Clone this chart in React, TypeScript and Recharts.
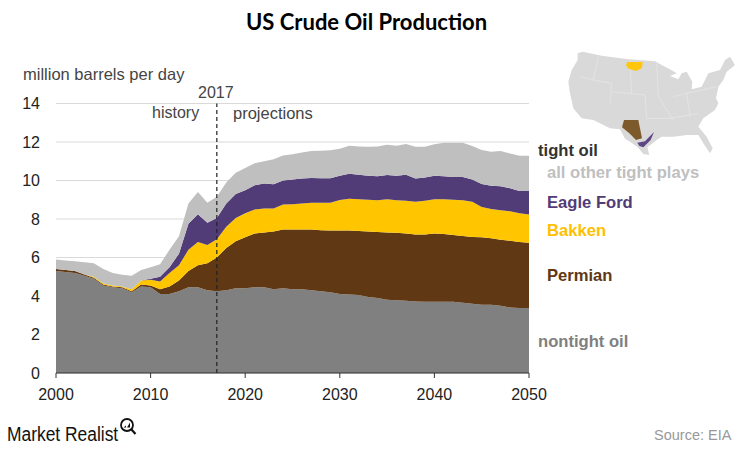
import React from 'react';
import { Area, AreaChart, CartesianGrid, ReferenceLine, XAxis, YAxis } from 'recharts';

const years = [
  2000, 2001, 2002, 2003, 2004, 2005, 2006, 2007, 2008, 2009,
  2010, 2011, 2012, 2013, 2014, 2015, 2016, 2017, 2018, 2019,
  2020, 2021, 2022, 2023, 2024, 2025, 2026, 2027, 2028, 2029,
  2030, 2031, 2032, 2033, 2034, 2035, 2036, 2037, 2038, 2039,
  2040, 2041, 2042, 2043, 2044, 2045, 2046, 2047, 2048, 2049, 2050,
];

// million barrels per day
const nontight = [
  5.3, 5.25, 5.2, 5.05, 4.9, 4.55, 4.45, 4.4, 4.2, 4.5,
  4.45, 4.1, 4.1, 4.25, 4.45, 4.45, 4.3, 4.25, 4.3, 4.4,
  4.4, 4.45, 4.45, 4.35, 4.4, 4.35, 4.35, 4.3, 4.25, 4.2,
  4.1, 4.08, 4.05, 3.95, 3.9, 3.8, 3.78, 3.75, 3.72, 3.7,
  3.7, 3.7, 3.7, 3.65, 3.6, 3.55, 3.55, 3.5, 3.4, 3.38, 3.38,
];
const permian = [
  0.1, 0.1, 0.1, 0.07, 0.05, 0.05, 0.05, 0.05, 0.05, 0.1,
  0.1, 0.25, 0.4, 0.55, 0.85, 1.15, 1.4, 1.75, 2.2, 2.45,
  2.65, 2.8, 2.85, 3.0, 3.05, 3.1, 3.1, 3.15, 3.17, 3.2,
  3.3, 3.32, 3.33, 3.4, 3.42, 3.5, 3.5, 3.5, 3.48, 3.5,
  3.55, 3.52, 3.47, 3.47, 3.47, 3.5, 3.45, 3.42, 3.47, 3.42, 3.39,
];
const bakken = [
  0, 0, 0, 0, 0.05, 0.05, 0.05, 0.05, 0.1, 0.2,
  0.3, 0.4, 0.7, 0.8, 1.1, 1.2, 0.95, 0.95, 1.1, 1.2,
  1.25, 1.25, 1.25, 1.2, 1.3, 1.31, 1.35, 1.4, 1.42, 1.45,
  1.59, 1.65, 1.65, 1.65, 1.65, 1.73, 1.7, 1.7, 1.7, 1.75,
  1.77, 1.8, 1.83, 1.85, 1.83, 1.57, 1.52, 1.53, 1.53, 1.5, 1.47,
];
const eagleFord = [
  0, 0, 0, 0, 0, 0, 0, 0, 0, 0,
  0.05, 0.25, 0.3, 0.6, 1.35, 1.45, 1.15, 1.1, 1.2, 1.25,
  1.2, 1.25, 1.3, 1.25, 1.25, 1.29, 1.3, 1.28, 1.28, 1.27,
  1.26, 1.3, 1.27, 1.25, 1.25, 1.25, 1.27, 1.35, 1.2, 1.2,
  1.23, 1.2, 1.18, 1.21, 1.15, 1.2, 1.21, 1.25, 1.2, 1.15, 1.21,
];
const otherTight = [
  0.5, 0.5, 0.5, 0.63, 0.7, 0.75, 0.65, 0.6, 0.7, 0.55,
  0.6, 0.65, 0.9, 0.9, 1.05, 1.15, 1.05, 1.1, 1.1, 1.1,
  1.15, 1.15, 1.15, 1.3, 1.3, 1.31, 1.35, 1.4, 1.43, 1.45,
  1.4, 1.45, 1.47, 1.5, 1.55, 1.58, 1.55, 1.6, 1.65, 1.6,
  1.63, 1.74, 1.78, 1.78, 1.74, 1.76, 1.77, 1.83, 1.8, 1.84, 1.84,
];

const yTicks = [0, 2, 4, 6, 8, 10, 12, 14];
const xTicks = [2000, 2010, 2020, 2030, 2040, 2050];

const rows = years.map((year, i) => ({
  year,
  nontight: nontight[i],
  permian: permian[i],
  bakken: bakken[i],
  eagleFord: eagleFord[i],
  otherTight: otherTight[i],
}));

const arial = '"Liberation Sans", Arial, sans-serif';

function Text(props: { x: number; y: number; size: number; color: string; bold?: boolean; font?: string; squeeze?: number; children: React.ReactNode }) {
  return (
    <div
      style={{
        position: 'absolute',
        left: props.x,
        top: props.y,
        fontFamily: props.font || arial,
        fontSize: props.size,
        fontWeight: props.bold ? 700 : 400,
        color: props.color,
        lineHeight: 1,
        whiteSpace: 'nowrap',
        transform: props.squeeze ? `scaleX(${props.squeeze})` : undefined,
        transformOrigin: 'left center',
      }}
    >
      {props.children}
    </div>
  );
}

// rough outline for the inset, not data
function UsMap() {
  return (
    <svg width={209} height={130} viewBox="0 0 627 390" style={{ position: 'absolute', left: 530, top: 40 }}>
      <path
        d="M143 40 L158 35 L215 47 L290 57 L375 64 L395 75 L420 88 L440 100 L420 108 L445 118 L455 100 L470 95 L487 125 L485 148 L515 140 L535 100 L570 90 L585 60 L600 50 L615 75 L590 95 L580 120 L565 140 L558 175 L565 190 L555 210 L520 235 L505 260 L530 290 L548 325 L540 340 L520 310 L505 285 L470 285 L430 290 L395 290 L380 300 L352 322 L358 345 L340 342 L322 320 L300 305 L285 296 L270 268 L240 265 L190 240 L155 235 L130 205 L120 160 L115 125 L125 90 L143 60 Z"
        fill="#d9d9d9"
      />
      <path
        d="M205 50 L190 120 L245 130 L240 190 M190 120 L150 110 M245 155 L345 165 L350 235 M300 60 L305 160 M380 70 L385 170 L430 240 M350 235 L420 235 L505 220 M430 170 L470 160 L560 140 M470 160 L480 230"
        fill="none"
        stroke="#e8e8e8"
        strokeWidth={2}
      />
      <path d="M292 66 L338 66 L336 84 L318 93 L296 86 L288 76 Z" fill="#ffc60b" />
      <path d="M282 240 L325 240 L330 265 L336 295 L318 300 L298 280 L276 262 Z" fill="#7d5a2c" />
      <path d="M372 276 L362 300 L340 322 L328 318 L322 308 L345 304 L358 290 Z" fill="#5d4784" />
    </svg>
  );
}

export default function App() {
  return (
    <div style={{ position: 'absolute', left: 0, top: 0, width: 739, height: 450, background: '#fff', overflow: 'hidden' }}>
      <AreaChart
        width={739}
        height={450}
        data={rows}
        margin={{ top: 103.5, right: 210, bottom: 47, left: 16 }}
      >
        <CartesianGrid vertical={false} stroke="#d9d9d9" strokeWidth={1} />
        <XAxis
          dataKey="year"
          type="number"
          domain={[2000, 2050]}
          ticks={xTicks}
          height={30}
          interval={0}
          stroke="#333"
          tickSize={5}
          tickMargin={11}
          tick={{ fill: '#222', fontSize: 16, fontFamily: arial }}
        />
        <YAxis
          domain={[0, 14]}
          ticks={yTicks}
          width={40}
          axisLine={false}
          tickLine={false}
          tickMargin={10}
          tick={{ fill: '#222', fontSize: 16, fontFamily: arial }}
        />
        <Area dataKey="nontight" stackId="oil" type="linear" stroke="none" fill="#808080" fillOpacity={1} isAnimationActive={false} />
        <Area dataKey="permian" stackId="oil" type="linear" stroke="none" fill="#603813" fillOpacity={1} isAnimationActive={false} />
        <Area dataKey="bakken" stackId="oil" type="linear" stroke="none" fill="#ffc600" fillOpacity={1} isAnimationActive={false} />
        <Area dataKey="eagleFord" stackId="oil" type="linear" stroke="none" fill="#513c78" fillOpacity={1} isAnimationActive={false} />
        <Area dataKey="otherTight" stackId="oil" type="linear" stroke="none" fill="#bfbfbf" fillOpacity={1} isAnimationActive={false} />
        <ReferenceLine x={2017} stroke="#222" strokeWidth={1.2} strokeDasharray="4 3" />
      </AreaChart>

      <Text x={246} y={11} size={22} color="#000" bold font="Lato, sans-serif">US Crude Oil Production</Text>
      <Text x={23} y={66} size={16.5} color="#444">million barrels per day</Text>
      <Text x={198} y={85} size={16} color="#444">2017</Text>
      <Text x={152} y={105} size={16} color="#444">history</Text>
      <Text x={233} y={105} size={16.5} color="#444">projections</Text>

      <UsMap />

      <Text x={538} y={143} size={16.6} color="#333" bold>tight oil</Text>
      <Text x={547} y={165} size={16.6} color="#bfbfbf" bold>all other tight plays</Text>
      <Text x={547} y={195} size={16.6} color="#513c78" bold>Eagle Ford</Text>
      <Text x={547} y={223} size={16.6} color="#ffc000" bold>Bakken</Text>
      <Text x={547} y={268} size={16.6} color="#603813" bold>Permian</Text>
      <Text x={538} y={334} size={16.6} color="#808080" bold>nontight oil</Text>

      <Text x={7} y={424} size={20} color="#111" squeeze={0.87}>Market Realist</Text>
      <svg width={20} height={22} style={{ position: 'absolute', left: 118, top: 417 }}>
        <circle cx={9} cy={8} r={6} fill="none" stroke="#111" strokeWidth={1.8} />
        <line x1={13.5} y1={12.5} x2={17.5} y2={17} stroke="#111" strokeWidth={2.2} />
        <path d="M5.5 10.5 L8 8.5 L8 10.5 Z M9 10.5 L12 5.5 L12 10.5 Z" fill="#111" />
      </svg>
      <Text x={654} y={428} size={14.5} color="#999">Source: EIA</Text>
    </div>
  );
}
